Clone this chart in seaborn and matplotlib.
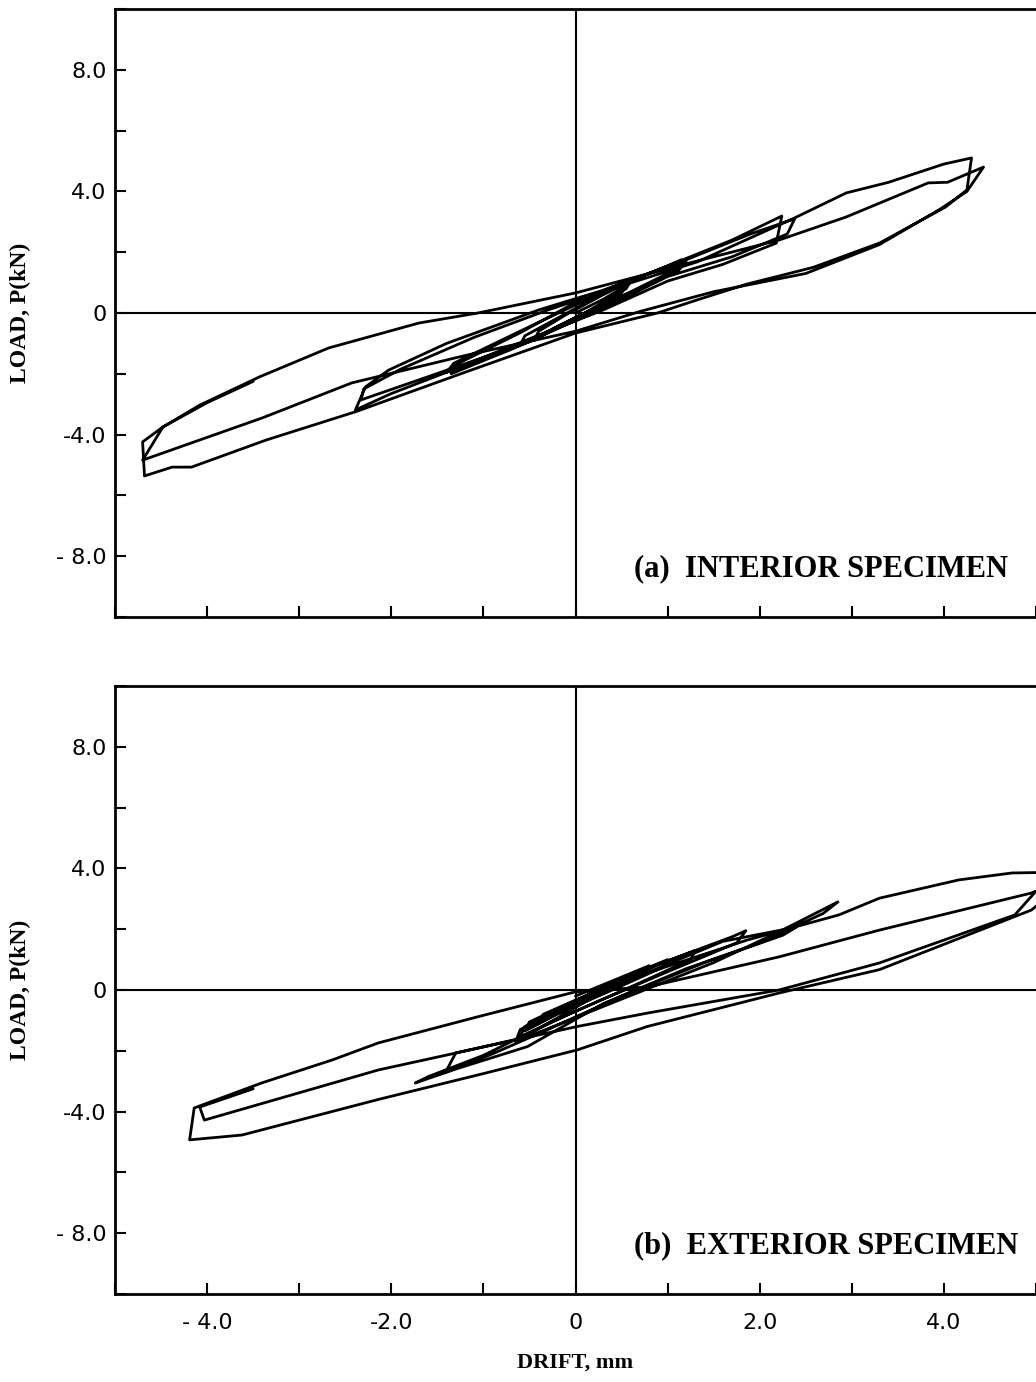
import numpy as np
import pandas as pd
import matplotlib
matplotlib.use("Agg")
import matplotlib.pyplot as plt
import seaborn as sns

# ---------------- data (drift in mm, load in kN) ----------------
# Panel (a) interior specimen
a_small_x = [0.0, 0.3, 0.55, 0.5, 0.2, -0.2, -0.45, -0.4, -0.1, 0.3, 0.6, 0.55, 0.1, -0.3, -0.6, -0.55, 0.0]
a_small_y = [0.0, 0.45, 0.9, 0.65, 0.15, -0.45, -0.9, -0.6, -0.05, 0.6, 1.05, 0.8, 0.0, -0.6, -1.05, -0.75, 0.15]
a_med_x = [0.5, 1.0, 1.15, 1.1, 0.5, 0.0, -0.7, -1.35, -1.3, -0.6, 0.0, 0.6, 1.2, 1.12, 0.4, -0.5, -1.4, -1.32, -0.5, 0.2]
a_med_y = [0.95, 1.55, 1.75, 1.45, 0.55, -0.25, -1.2, -2.0, -1.7, -0.65, 0.35, 1.1, 1.7, 1.4, 0.4, -0.95, -1.95, -1.65, -0.45, 0.55]
a_mid_x = [1.0, 1.7, 2.24, 2.18, 1.6, 1.0, 0.3, -0.5, -1.4, -2.0, -2.39, -2.28, -2.03, -1.4, -0.4, 0.3, 1.2, 1.9,
           2.38, 2.3, 1.7, 1.0, 0.2, -0.8, -1.7, -2.33, -2.3, -1.9, -1.1, -0.3, 0.4]
a_mid_y = [1.55, 2.4, 3.19, 2.3, 1.6, 1.05, 0.1, -0.85, -1.95, -2.65, -3.19, -2.43, -1.88, -1.0, 0.1, 0.75, 1.75, 2.6,
           3.1, 2.6, 1.85, 1.2, 0.0, -1.25, -2.2, -2.86, -2.5, -1.85, -0.8, 0.1, 0.8]
a_big1_x = [1.32, 2.36, 2.94, 3.4, 4.0, 4.30, 4.25, 4.02, 3.3, 2.58, 1.86, 1.32, 0.89, 0.0, -1.2, -2.39, -3.36,
            -4.17, -4.38, -4.68, -4.70, -4.48, -4.08, -3.43, -2.68, -1.7, -1.06, 0.0]
a_big1_y = [1.68, 3.1, 3.95, 4.3, 4.9, 5.1, 4.05, 3.49, 2.3, 1.5, 0.95, 0.43, 0.0, -0.66, -1.95, -3.25, -4.18,
            -5.07, -5.07, -5.36, -4.24, -3.75, -3.03, -2.1, -1.15, -0.33, 0.0, 0.66]
a_big2_x = [0.8, 1.5, 2.21, 2.94, 3.83, 4.04, 4.43, 4.25, 3.95, 3.3, 2.5, 1.5, 0.7, 0.0, -1.2, -2.43, -3.4,
            -4.70, -4.48, -4.0, -3.5]
a_big2_y = [1.3, 1.85, 2.4, 3.16, 4.28, 4.3, 4.8, 4.0, 3.4, 2.25, 1.3, 0.7, 0.05, -0.6, -1.4, -2.3, -3.45,
            -4.84, -3.75, -2.95, -2.25]

# Panel (b) exterior specimen
b_small_x = [0.0, 0.4, 0.8, 0.75, 0.3, -0.1, -0.4, -0.35, 0.1, 0.6, 1.0, 0.95, 0.4, -0.2, -0.55, -0.5, 0.0, 0.7,
             1.3, 1.25, 0.6, 0.0, -0.6, -0.55, 0.1, 0.9, 1.7, 1.85, 1.75, 1.0, 0.3, -0.3, -0.65, -0.6, 0.0, 0.8,
             1.6, 2.4, 2.25, 1.4, 0.5, -0.3, -0.9]
b_small_y = [-0.2, 0.3, 0.8, 0.55, -0.1, -0.6, -1.1, -0.8, -0.2, 0.5, 1.0, 0.75, 0.0, -0.8, -1.35, -1.05, -0.35, 0.6,
             1.3, 1.0, 0.1, -0.7, -1.55, -1.2, -0.3, 0.85, 1.75, 1.95, 1.55, 0.6, -0.3, -1.1, -1.7, -1.3, -0.5, 0.6,
             1.6, 2.07, 1.8, 0.9, -0.2, -1.3, -2.1]
b_mid_x = [-1.41, -1.3, -0.52, 0.5, 1.5, 2.2, 2.85, 2.69, 2.0, 1.2, 0.3, -0.52, -1.3, -1.74, -1.6, -1.0, -0.3, 0.3]
b_mid_y = [-2.7, -2.07, -1.54, -0.3, 0.9, 1.9, 2.9, 2.52, 1.55, 0.7, -0.45, -1.86, -2.6, -3.06, -2.85, -2.15, -1.1, -0.05]
b_big1_x = [0.78, 1.86, 2.86, 3.3, 4.16, 4.74, 5.15, 5.1, 4.95, 3.3, 2.21, 0.78, 0.02, -1.0, -2.14, -3.62, -4.19,
            -4.14, -3.4, -2.64, -2.14, -1.06, 0.0]
b_big1_y = [0.56, 1.64, 2.47, 3.02, 3.62, 3.85, 3.87, 3.0, 2.63, 0.67, -0.1, -1.2, -1.97, -2.75, -3.6, -4.77, -4.93,
            -3.88, -3.05, -2.3, -1.74, -0.88, -0.06]
b_big2_x = [0.78, 2.21, 3.3, 4.95, 5.0, 4.77, 3.3, 2.21, 0.78, 0.02, -2.14, -4.03, -4.08, -3.5]
b_big2_y = [0.1, 1.09, 1.97, 3.19, 3.25, 2.47, 0.89, 0.0, -0.76, -1.2, -2.63, -4.28, -3.85, -3.25]

x_ticks = [-5, -4, -3, -2, -1, 0, 1, 2, 3, 4, 5]
x_ticklabels = ["", "- 4.0", "", "-2.0", "", "0", "", "2.0", "", "4.0", ""]
y_ticks = [-10, -8, -6, -4, -2, 0, 2, 4, 6, 8, 10]
y_ticklabels = ["", "- 8.0", "", "-4.0", "", "0", "", "4.0", "", "8.0", ""]
panel_titles = ["(a)  INTERIOR SPECIMEN", "(b)  EXTERIOR SPECIMEN"]

a_drift = a_small_x + a_med_x + a_mid_x + a_big1_x + a_big2_x
a_load = a_small_y + a_med_y + a_mid_y + a_big1_y + a_big2_y
b_drift = b_small_x + b_mid_x + b_big1_x + b_big2_x
b_load = b_small_y + b_mid_y + b_big1_y + b_big2_y

# ---------------- figure ----------------
sns.set_theme(style="white")
plt.rcParams["font.family"] = ["DejaVu Sans"]

W, H = 1036, 1382
fig = plt.figure(figsize=(W / 100, H / 100), dpi=100)
left = 115 / W
width = 1.0 - left
ax_a = fig.add_axes([left, 1 - 617 / H, width, 608 / H])
ax_b = fig.add_axes([left, 1 - 1294 / H, width, 608 / H])

serif = ["Liberation Serif", "DejaVu Serif"]

for ax, xs, ys, title, show_xlabels in [
    (ax_a, a_drift, a_load, panel_titles[0], False),
    (ax_b, b_drift, b_load, panel_titles[1], True),
]:
    df = pd.DataFrame({"drift": xs, "load": ys})
    ax.axhline(0, color="black", lw=1.5, zorder=1)
    ax.axvline(0, color="black", lw=1.5, zorder=1)
    sns.lineplot(data=df, x="drift", y="load", sort=False, estimator=None,
                 color="black", lw=2.0, ax=ax, zorder=3)
    ax.set_xlim(-5, (W - 578) / 92.6)
    ax.set_ylim(-10, 10)
    ax.set_xticks(x_ticks)
    ax.set_yticks(y_ticks)
    ax.set_yticklabels(y_ticklabels)
    if show_xlabels:
        ax.set_xticklabels(x_ticklabels)
    else:
        ax.set_xticklabels([""] * len(x_ticks))
    ax.tick_params(axis="both", direction="in", length=8, width=1.5, colors="black",
                   labelsize=16, bottom=True, left=True, top=False, right=False)
    ax.tick_params(axis="y", pad=6)
    ax.tick_params(axis="x", pad=14)
    for s in ["left", "bottom", "top"]:
        ax.spines[s].set_visible(True)
        ax.spines[s].set_color("black")
        ax.spines[s].set_linewidth(2.0)
    ax.spines["right"].set_visible(False)
    ax.set_ylabel("LOAD, P(kN)", family=serif, fontweight="bold", fontsize=17, color="black")
    ax.yaxis.set_label_coords(-0.091, 0.5)
    if show_xlabels:
        ax.set_xlabel("DRIFT, mm", family=serif, fontweight="bold", fontsize=16, color="black")
        ax.xaxis.set_label_coords(0.5, -0.097)
    else:
        ax.set_xlabel("")
    ax.text(0.64, -8.4, title, family=serif, fontweight="bold", fontsize=22,
            ha="left", va="center", color="black")
    ax.set_facecolor("white")

fig.savefig("out.png", dpi=100, facecolor="white")
